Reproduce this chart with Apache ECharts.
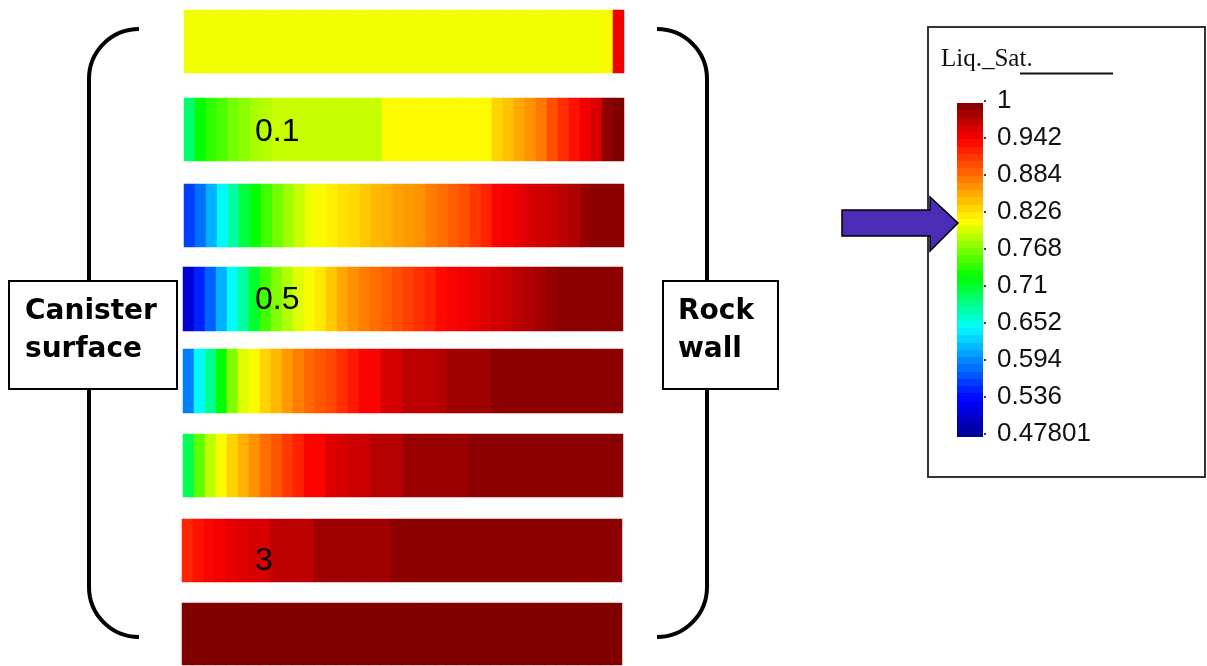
<!DOCTYPE html>
<html>
<head>
<meta charset="utf-8">
<script src="https://cdn.jsdelivr.net/npm/echarts@6/dist/echarts.min.js"></script>
<style>
  html, body { margin: 0; padding: 0; background: #fff; }
  #chart { width: 1207px; height: 666px; }
</style>
</head>
<body>
<div id="chart"></div>
<script>
// Liquid saturation across the buffer, from canister surface (left) to rock wall (right),
// one strip per time; each strip is a row of cells coloured through the legend scale.
const satMin = 0.47801;
const satMax = 1;
const tickLabels = ['0.47801', '0.536', '0.594', '0.652', '0.71', '0.768', '0.826', '0.884', '0.942', '1'];
const stripTimes = ['', '0.1', '', '0.5', '', '', '3', ''];

const strip0 = [0.81, 0.81, 0.81, 0.81, 0.81, 0.81, 0.81, 0.81, 0.81, 0.81,
  0.81, 0.81, 0.81, 0.81, 0.81, 0.81, 0.81, 0.81, 0.81, 0.81,
  0.81, 0.81, 0.81, 0.81, 0.81, 0.81, 0.81, 0.81, 0.81, 0.81,
  0.81, 0.81, 0.81, 0.81, 0.81, 0.81, 0.81, 0.81, 0.815, 0.95];
const strip1 = [0.695, 0.73, 0.745, 0.755, 0.768, 0.776, 0.785, 0.79, 0.796, 0.796,
  0.796, 0.796, 0.796, 0.796, 0.796, 0.796, 0.796, 0.796, 0.816, 0.816,
  0.816, 0.816, 0.816, 0.816, 0.816, 0.816, 0.816, 0.816, 0.836, 0.846,
  0.858, 0.869, 0.882, 0.903, 0.919, 0.934, 0.948, 0.96, 0.993, 1.0];
const strip2 = [0.564, 0.586, 0.615, 0.65, 0.679, 0.709, 0.729, 0.75, 0.767, 0.782,
  0.796, 0.81, 0.815, 0.822, 0.83, 0.834, 0.842, 0.85, 0.854, 0.862,
  0.866, 0.87, 0.879, 0.887, 0.895, 0.903, 0.915, 0.926, 0.943, 0.946,
  0.953, 0.96, 0.964, 0.967, 0.974, 0.978, 0.99, 0.995, 0.995, 0.995];
const strip3 = [0.515, 0.55, 0.579, 0.615, 0.65, 0.679, 0.714, 0.75, 0.772, 0.788,
  0.804, 0.815, 0.826, 0.842, 0.858, 0.87, 0.879, 0.887, 0.895, 0.903,
  0.911, 0.919, 0.926, 0.938, 0.943, 0.948, 0.953, 0.957, 0.964, 0.967,
  0.974, 0.978, 0.982, 0.99, 0.995, 0.995, 0.995, 0.995, 0.995, 0.995];
const strip4 = [0.593, 0.65, 0.684, 0.729, 0.772, 0.804, 0.815, 0.838, 0.85, 0.866,
  0.879, 0.89, 0.899, 0.907, 0.919, 0.93, 0.943, 0.943, 0.96, 0.962,
  0.974, 0.974, 0.974, 0.976, 0.985, 0.985, 0.985, 0.986, 0.995, 0.995,
  0.995, 0.995, 0.995, 0.995, 0.995, 0.995, 0.995, 0.995, 0.995, 0.995];
const strip5 = [0.704, 0.761, 0.793, 0.815, 0.838, 0.854, 0.87, 0.887, 0.899, 0.915,
  0.926, 0.943, 0.943, 0.957, 0.96, 0.966, 0.966, 0.976, 0.976, 0.976,
  0.988, 0.988, 0.988, 0.988, 0.988, 0.988, 0.995, 0.995, 0.995, 0.995,
  0.995, 0.995, 0.995, 0.995, 0.995, 0.995, 0.995, 0.995, 0.995, 0.995];
const strip6 = [0.924, 0.934, 0.943, 0.946, 0.953, 0.956, 0.96, 0.96, 0.973, 0.973,
  0.973, 0.973, 0.986, 0.986, 0.986, 0.986, 0.986, 0.986, 0.986, 0.995,
  0.995, 0.995, 0.995, 0.995, 0.995, 0.995, 0.995, 0.995, 0.995, 0.995,
  0.995, 0.995, 0.995, 0.995, 0.995, 0.995, 0.995, 0.995, 0.995, 0.995];
const strip7 = [1, 1, 1, 1, 1, 1, 1, 1, 1, 1,
  1, 1, 1, 1, 1, 1, 1, 1, 1, 1,
  1, 1, 1, 1, 1, 1, 1, 1, 1, 1,
  1, 1, 1, 1, 1, 1, 1, 1, 1, 1];

const strips = [strip0, strip1, strip2, strip3, strip4, strip5, strip6, strip7];

// Strip placement (pixels); 40 cells of 11 px each
const stripBox = [
  { left: 184, top: 10, width: 440, height: 63 },
  { left: 184, top: 98, width: 440, height: 63 },
  { left: 184, top: 184, width: 440, height: 63 },
  { left: 183, top: 267, width: 440, height: 64 },
  { left: 183, top: 349, width: 440, height: 64 },
  { left: 183, top: 434, width: 440, height: 63 },
  { left: 182, top: 519, width: 440, height: 63 },
  { left: 182, top: 603, width: 440, height: 62 }
];
const timeLabelY = [0, 132, 0, 300, 0, 0, 561, 0];

// Rainbow colour scale (position along the range, colour)
const scaleStops = [
  [0, [0, 0, 143]], [0.11, [0, 0, 255]], [0.33, [0, 255, 255]], [0.48, [0, 255, 0]],
  [0.645, [255, 255, 0]], [0.89, [255, 0, 0]], [1, [128, 0, 0]]
];
function scaleColor(t) {
  for (let i = 1; i < scaleStops.length; i++) {
    const [p1, c1] = scaleStops[i];
    const [p0, c0] = scaleStops[i - 1];
    if (t <= p1) {
      const u = (t - p0) / (p1 - p0);
      const c = c0.map((v, k) => Math.round(v + (c1[k] - v) * u));
      return 'rgb(' + c.join(',') + ')';
    }
  }
  return 'rgb(128,0,0)';
}
const scaleColors = [];
for (let i = 0; i <= 60; i++) scaleColors.push(scaleColor(i / 60));

// Banded fill for the legend bar (top = max)
const bandCount = 46;
const barStops = [];
for (let b = 0; b < bandCount; b++) {
  const c = scaleColor(1 - (b + 0.5) / bandCount);
  barStops.push({ offset: b / bandCount, color: c }, { offset: (b + 1) / bandCount, color: c });
}

const grid = [], xAxis = [], yAxis = [], series = [];
strips.forEach((vals, k) => {
  grid.push(Object.assign({ containLabel: false }, stripBox[k]));
  xAxis.push({ gridIndex: k, type: 'category', data: vals.map((_, i) => String(i)), show: false });
  yAxis.push({ gridIndex: k, type: 'category', data: ['s'], show: false });
  series.push({
    type: 'heatmap', xAxisIndex: k, yAxisIndex: k, silent: true,
    emphasis: { disabled: true },
    data: vals.map((v, i) => [i, 0, v])
  });
});

// Tick labels of the legend scale
const lg = strips.length;
grid.push({ left: 984, top: 101, width: 1, height: 333, containLabel: false });
xAxis.push({ gridIndex: lg, type: 'value', show: false });
yAxis.push({
  gridIndex: lg, type: 'value', min: 0, max: tickLabels.length - 1, interval: 1, position: 'right',
  axisLine: { show: false }, splitLine: { show: false },
  axisTick: { show: true, length: 2, lineStyle: { color: '#000', width: 1.5 } },
  axisLabel: {
    margin: 12, fontSize: 26, fontFamily: 'Liberation Sans', color: '#111',
    formatter: v => tickLabels[v]
  }
});

const stroke = { stroke: '#000', lineWidth: 4, fill: null };
const graphics = [
  // legend frame, title and colour bar
  { type: 'rect', shape: { x: 928, y: 27, width: 277, height: 450 }, style: { fill: '#fff', stroke: '#333', lineWidth: 2 }, z: -10 },
  { type: 'text', x: 941, y: 72, style: { text: 'Liq._Sat.', font: '25px "Liberation Serif"', fill: '#111', textAlign: 'left', textVerticalAlign: 'bottom' } },
  { type: 'line', shape: { x1: 1020, y1: 73.5, x2: 1113, y2: 73.5 }, style: { stroke: '#111', lineWidth: 2 } },
  { type: 'rect', shape: { x: 957, y: 103, width: 26, height: 334 },
    style: { fill: { type: 'linear', x: 0, y: 0, x2: 0, y2: 1, colorStops: barStops } } },
  // arrow pointing at the scale
  { type: 'polygon', shape: { points: [[842, 210], [930, 210], [930, 197], [958, 223], [930, 251], [930, 236], [842, 236]] },
    style: { fill: '#4b2db5', stroke: '#000', lineWidth: 1.5 } },
  // left bracket
  { type: 'arc', shape: { cx: 139, cy: 79, r: 50, startAngle: Math.PI, endAngle: Math.PI * 1.5, clockwise: true }, style: stroke },
  { type: 'line', shape: { x1: 89, y1: 79, x2: 89, y2: 281 }, style: stroke },
  { type: 'line', shape: { x1: 89, y1: 389, x2: 89, y2: 587 }, style: stroke },
  { type: 'arc', shape: { cx: 139, cy: 587, r: 50, startAngle: Math.PI * 0.5, endAngle: Math.PI, clockwise: true }, style: stroke },
  // right bracket
  { type: 'arc', shape: { cx: 657, cy: 79, r: 50, startAngle: Math.PI * 1.5, endAngle: Math.PI * 2, clockwise: true }, style: stroke },
  { type: 'line', shape: { x1: 707, y1: 79, x2: 707, y2: 281 }, style: stroke },
  { type: 'line', shape: { x1: 707, y1: 389, x2: 707, y2: 587 }, style: stroke },
  { type: 'arc', shape: { cx: 657, cy: 587, r: 50, startAngle: 0, endAngle: Math.PI * 0.5, clockwise: true }, style: stroke },
  // end labels
  { type: 'rect', shape: { x: 9, y: 281, width: 168, height: 108 }, style: { fill: '#fff', stroke: '#000', lineWidth: 2 } },
  { type: 'text', x: 25, y: 331, style: { text: 'Canister\nsurface', font: 'bold 28px "DejaVu Sans"', lineHeight: 38, fill: '#000', textAlign: 'left', textVerticalAlign: 'middle' } },
  { type: 'rect', shape: { x: 663, y: 281, width: 115, height: 108 }, style: { fill: '#fff', stroke: '#000', lineWidth: 2 } },
  { type: 'text', x: 678, y: 331, style: { text: 'Rock\nwall', font: 'bold 28px "DejaVu Sans"', lineHeight: 38, fill: '#000', textAlign: 'left', textVerticalAlign: 'middle' } }
];
stripTimes.forEach((t, k) => {
  if (!t) return;
  graphics.push({ type: 'text', x: 255, y: timeLabelY[k], z: 10,
    style: { text: t, font: '32px "Liberation Sans"', fill: '#000', textAlign: 'left', textVerticalAlign: 'middle' } });
});

const chart = echarts.init(document.getElementById('chart'), null, { renderer: 'canvas' });
chart.setOption({
  animation: false,
  backgroundColor: '#fff',
  grid, xAxis, yAxis, series,
  visualMap: {
    type: 'continuous', min: satMin, max: satMax, show: false,
    seriesIndex: strips.map((_, k) => k),
    inRange: { color: scaleColors }
  },
  graphic: { elements: graphics }
});
</script>
</body>
</html>
